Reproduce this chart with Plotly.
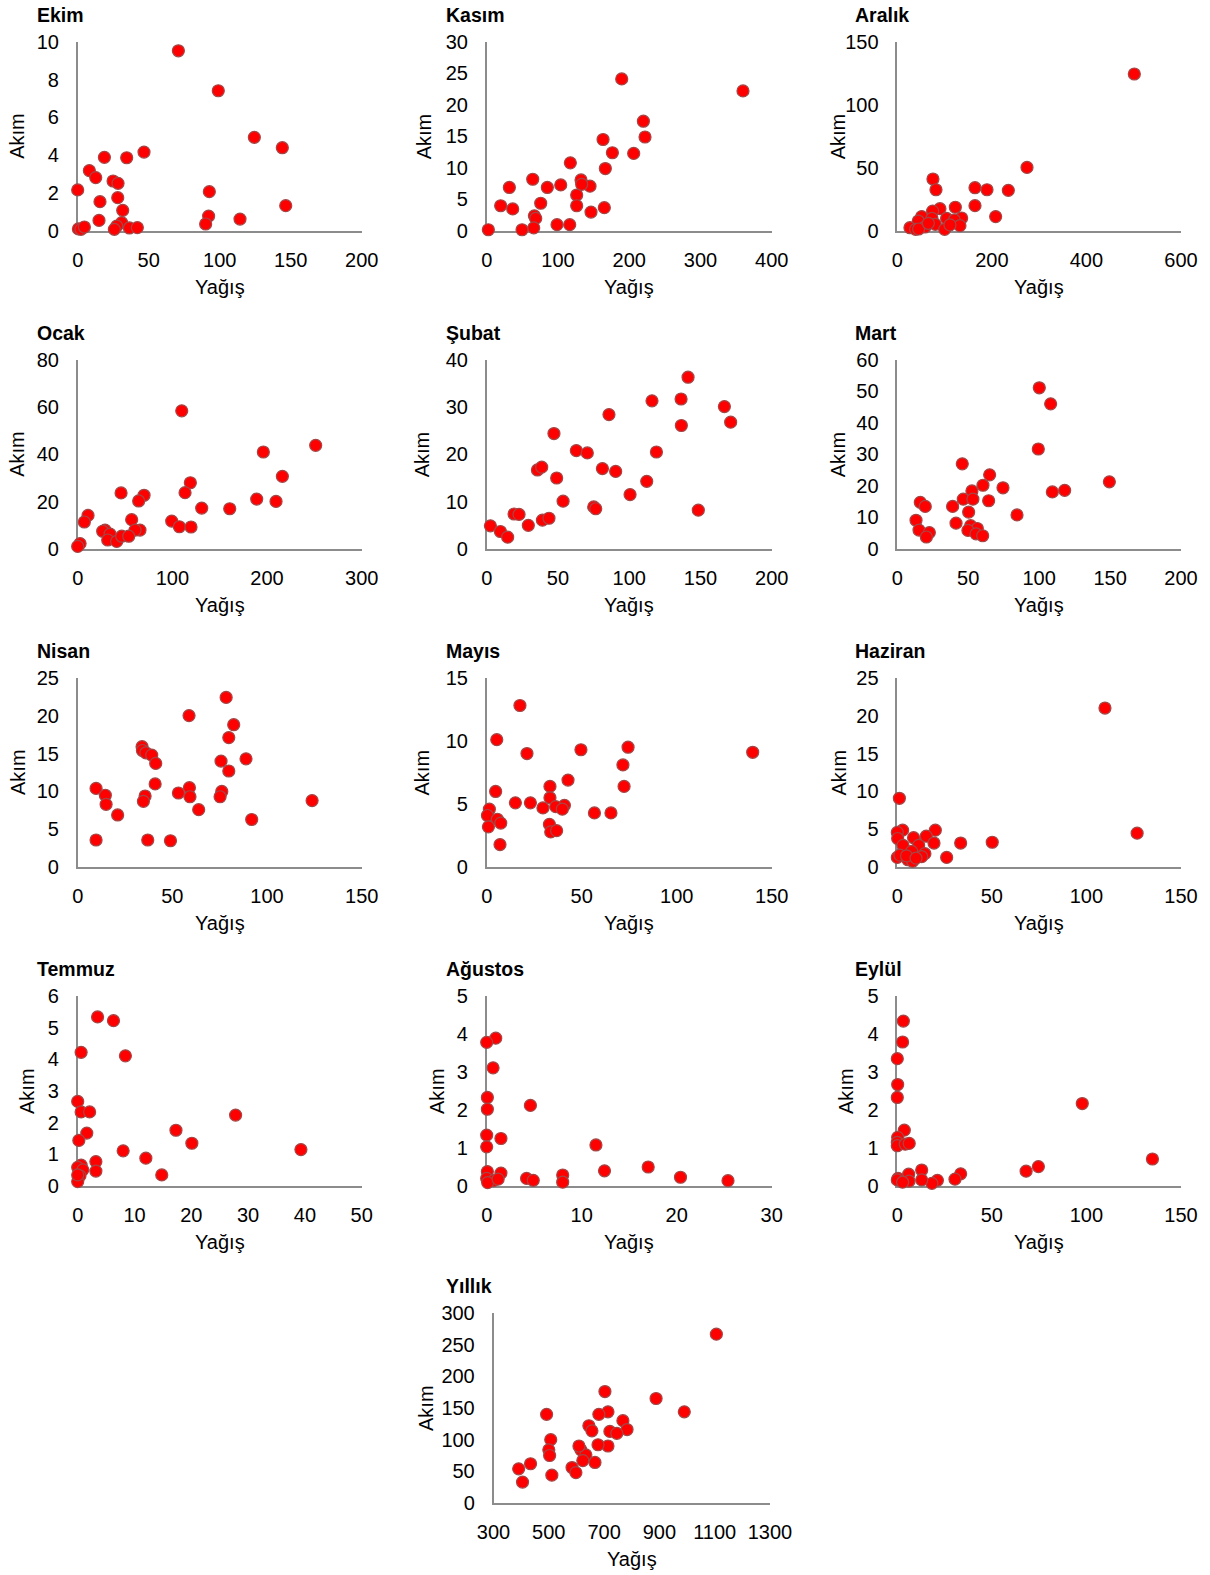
import plotly.graph_objects as go

# ---------------- data (Yağış = precipitation, Akım = runoff) ----------------
ekim_yagis = [70.9, 99, 124.4, 144.1, 46.7, 18.8, 34.5, 8.2, 12.7, 24.9, 28.4, 0, 92.7, 28.2, 15.7,
              31.7, 146.5, 92.2, 114.3, 90.1, 15.0, 31.0, 27.5, 25.8, 36.4, 42.0, 0.5, 2.3, 4.7]
ekim_akim = [9.52, 7.41, 4.95, 4.40, 4.17, 3.89, 3.87, 3.19, 2.82, 2.64, 2.52, 2.17, 2.08, 1.76, 1.55,
             1.09, 1.34, 0.79, 0.63, 0.37, 0.56, 0.44, 0.26, 0.09, 0.16, 0.18, 0.11, 0.09, 0.21]

kasim_yagis = [189.5, 359.7, 219.9, 222.2, 163.3, 176.4, 206.3, 117.4, 166.5, 64.6, 132.4, 31.8, 85.1,
               103.9, 145.0, 133.3, 126.3, 75.8, 19.6, 36.5, 126.3, 165.1, 146.4, 66.9, 68.8, 66.0,
               98.7, 116.5, 49.6, 2.3]
kasim_akim = [24.1, 22.2, 17.4, 14.9, 14.5, 12.4, 12.3, 10.8, 9.9, 8.2, 8.1, 6.9, 6.9, 7.3, 7.1, 7.4,
              5.7, 4.4, 4.0, 3.5, 4.0, 3.7, 3.0, 2.4, 2.0, 0.5, 1.0, 1.0, 0.2, 0.2]

aralik_yagis = [501.3, 274.3, 75.4, 81.8, 164.3, 189.7, 234.8, 164.3, 122.7, 90.2, 74.7, 208.0, 136.1,
                104.3, 51.5, 73.3, 120.6, 44.4, 132.5, 80.4, 58.5, 26.8, 38.8, 45.1, 100.1, 111.4, 65.6]
aralik_akim = [124.4, 50.4, 41.2, 32.7, 34.3, 32.7, 32.2, 20.1, 18.8, 17.7, 15.8, 11.4, 10.3, 10.0,
               11.4, 10.0, 8.7, 7.9, 4.2, 5.3, 3.2, 2.6, 1.3, 1.6, 1.3, 4.8, 6.1]

ocak_yagis = [109.9, 251.4, 196.1, 216.2, 119.0, 113.4, 45.8, 70.1, 64.4, 189.1, 209.5, 131.0, 160.6,
              10.9, 7.0, 57.0, 99.3, 107.4, 119.7, 65.8, 60.6, 28.9, 26.4, 34.2, 31.7, 41.2, 46.5,
              53.9, 2.5, 0]
ocak_akim = [58.4, 43.8, 41.0, 30.7, 28.0, 23.8, 23.7, 22.7, 20.3, 21.1, 20.1, 17.3, 17.0, 14.2, 11.4,
             12.4, 11.8, 9.4, 9.3, 8.0, 8.0, 8.0, 7.5, 6.3, 3.8, 3.2, 5.4, 5.4, 2.3, 1.1]

subat_yagis = [141.3, 116.0, 136.4, 166.8, 171.2, 136.6, 85.8, 47.2, 62.9, 70.6, 119.1, 35.6, 38.6,
               81.2, 90.5, 49.1, 112.3, 100.6, 53.6, 75.1, 76.5, 148.5, 19.2, 22.7, 39.1, 43.7,
               29.2, 2.6, 9.6, 14.7]
subat_akim = [36.3, 31.3, 31.7, 30.1, 26.8, 26.1, 28.4, 24.4, 20.8, 20.3, 20.5, 16.7, 17.3, 17.0, 16.4,
              15.0, 14.3, 11.5, 10.1, 8.9, 8.5, 8.2, 7.4, 7.3, 6.1, 6.5, 5.0, 4.9, 3.7, 2.5]

mart_yagis = [100.1, 108.1, 99.4, 45.8, 149.5, 65.1, 60.4, 74.5, 52.6, 109.3, 118.0, 46.5, 53.3, 64.4,
              16.2, 19.7, 39.0, 50.3, 84.4, 13.2, 41.4, 51.7, 56.4, 49.8, 15.3, 22.6, 20.5, 55.5, 60.2]
mart_akim = [51.1, 46.0, 31.7, 27.0, 21.3, 23.5, 20.2, 19.4, 18.4, 18.1, 18.6, 15.8, 15.8, 15.3, 14.8,
             13.5, 13.5, 11.7, 10.8, 9.1, 8.2, 7.4, 6.5, 5.9, 6.0, 5.2, 3.8, 4.8, 4.2]

nisan_yagis = [78.4, 58.8, 82.4, 79.8, 34.0, 34.2, 36.0, 39.1, 41.2, 88.9, 75.7, 79.8, 40.9, 9.7, 59.0,
               53.2, 76.1, 14.6, 35.6, 59.3, 75.2, 15.0, 34.7, 123.8, 63.9, 21.1, 91.9, 9.7, 37.0, 49.0]
nisan_akim = [22.4, 20.0, 18.8, 17.1, 15.9, 15.4, 15.1, 14.8, 13.7, 14.3, 14.0, 12.7, 11.0, 10.4, 10.5,
              9.8, 10.0, 9.5, 9.4, 9.3, 9.3, 8.3, 8.7, 8.8, 7.6, 6.9, 6.3, 3.6, 3.6, 3.5]

mayis_yagis = [17.5, 5.3, 74.4, 49.6, 140.0, 21.2, 71.7, 42.8, 72.3, 33.3, 4.7, 33.3, 15.1, 23.0, 40.9,
               36.3, 29.6, 39.8, 56.7, 65.4, 1.4, 0.4, 5.6, 7.4, 33.0, 0.9, 33.7, 36.8, 7.0]
mayis_akim = [12.8, 10.1, 9.5, 9.3, 9.1, 9.0, 8.1, 6.9, 6.4, 6.4, 6.0, 5.5, 5.1, 5.1, 4.9, 4.8, 4.7,
              4.6, 4.3, 4.3, 4.6, 4.1, 3.8, 3.5, 3.4, 3.2, 2.8, 2.9, 1.8]

haziran_yagis = [109.8, 126.8, 1.1, 2.8, 20.1, 0, 0.2, 8.6, 15.3, 3.0, 11.3, 19.4, 33.5, 50.2, 7.6,
                 14.6, 26.1, 0, 1.4, 5.6, 8.1, 12.9, 4.9, 9.9]
haziran_akim = [21.0, 4.5, 9.1, 4.9, 4.9, 4.6, 3.8, 3.9, 4.1, 2.9, 2.9, 3.2, 3.2, 3.3, 2.1, 1.8, 1.3,
                1.3, 1.6, 1.0, 0.8, 1.4, 1.5, 1.2]

temmuz_yagis = [3.5, 6.3, 0.6, 8.4, 0, 0.6, 2.1, 27.8, 1.6, 17.3, 0.2, 20.1, 39.3, 8.0, 12.0, 3.2, 3.2,
                14.8, 0.6, 0, 0.9, 0.4, 0, 0]
temmuz_akim = [5.34, 5.22, 4.22, 4.11, 2.67, 2.34, 2.34, 2.24, 1.67, 1.76, 1.44, 1.35, 1.15, 1.11, 0.88,
               0.77, 0.47, 0.35, 0.66, 0.59, 0.51, 0.32, 0.14, 0.35]

agustos_yagis = [0.95, 0, 0.67, 0.07, 4.6, 0.07, 0, 1.5, 0, 11.5, 12.4, 17.0, 20.4, 25.4, 1.5, 4.2,
                 4.9, 8.0, 8.0, 0.07, 0, 0.7, 0.1, 1.2]
agustos_akim = [3.89, 3.78, 3.11, 2.33, 2.12, 2.02, 1.34, 1.25, 1.03, 1.08, 0.40, 0.50, 0.23, 0.14,
                0.34, 0.20, 0.15, 0.29, 0.10, 0.38, 0.20, 0.14, 0.09, 0.18]

eylul_yagis = [3.2, 2.8, 0, 0.2, 0, 97.8, 3.7, 0.2, 0, 0, 4.2, 6.3, 134.9, 74.6, 68.1, 12.9, 6.0,
               33.5, 30.5, 21.2, 18.3, 12.9, 6.2, 0.4, 0, 2.8]
eylul_akim = [4.34, 3.79, 3.35, 2.67, 2.33, 2.17, 1.47, 1.28, 1.15, 1.06, 1.10, 1.12, 0.71, 0.51,
              0.39, 0.42, 0.31, 0.32, 0.18, 0.15, 0.07, 0.16, 0.13, 0.20, 0.16, 0.10]

yillik_yagis = [1106, 888, 990, 703, 492, 714, 681, 645, 768, 783, 721, 746, 656, 507, 714, 678, 500,
                503, 616, 634, 623, 667, 434, 391, 584, 598, 511, 405, 609]
yillik_akim = [266.6, 165, 144, 176, 140, 144, 140, 122, 130, 116, 113, 110, 114, 100, 90, 92, 84,
               75, 84, 76, 67, 64, 62, 54, 56, 48, 44, 33, 90]

titles = ["Ekim", "Kasım", "Aralık", "Ocak", "Şubat", "Mart", "Nisan", "Mayıs", "Haziran",
          "Temmuz", "Ağustos", "Eylül", "Yıllık"]
series_x = [ekim_yagis, kasim_yagis, aralik_yagis, ocak_yagis, subat_yagis, mart_yagis, nisan_yagis,
            mayis_yagis, haziran_yagis, temmuz_yagis, agustos_yagis, eylul_yagis, yillik_yagis]
series_y = [ekim_akim, kasim_akim, aralik_akim, ocak_akim, subat_akim, mart_akim, nisan_akim,
            mayis_akim, haziran_akim, temmuz_akim, agustos_akim, eylul_akim, yillik_akim]

# axis scales (min, max, step)
x_scales = [(0, 200, 50), (0, 400, 100), (0, 600, 200), (0, 300, 100), (0, 200, 50), (0, 200, 50),
            (0, 150, 50), (0, 150, 50), (0, 150, 50), (0, 50, 10), (0, 30, 10), (0, 150, 50),
            (300, 1300, 200)]
y_scales = [(0, 10, 2), (0, 30, 5), (0, 150, 50), (0, 80, 20), (0, 40, 10), (0, 60, 10),
            (0, 25, 5), (0, 15, 5), (0, 25, 5), (0, 6, 1), (0, 5, 1), (0, 5, 1), (0, 300, 50)]

x_label = "Yağış"
y_label = "Akım"

# ---------------- layout ----------------
W, H = 1210, 1575
col_px = [(77.7, 361.7), (486.7, 771.7), (897.3, 1181.0)]
row_px = [(41.7, 231.0), (359.7, 549.0), (677.7, 867.3), (996.0, 1186.0), (1313.0, 1503.0)]
title_left = [35, 444, 853]
yillik_cols = (493.5, 770.0)
ytitle_x = [17.5, 424, 838, 17.5, 422, 838, 17.5, 421, 838, 27, 437, 846, 426]


def fx(px):
    return px / W


def fy(py):
    return 1 - py / H


FONT = "Liberation Sans, Arial, sans-serif"
AX_COLOR = "#8C8C8C"
TICK_SIZE = 20

fig = go.Figure()
annotations = []

for i in range(13):
    if i < 12:
        r, c = divmod(i, 3)
        x0, x1 = col_px[c]
        tl = title_left[c]
    else:
        r = 4
        x0, x1 = yillik_cols
        tl = 444
    top, bot = row_px[r]
    n = i + 1
    xa = "x" if n == 1 else f"x{n}"
    ya = "y" if n == 1 else f"y{n}"
    fig.add_trace(go.Scatter(
        x=series_x[i], y=series_y[i], mode="markers", xaxis=xa, yaxis=ya,
        cliponaxis=False, showlegend=False,
        marker=dict(size=12, color="#FF0000", line=dict(color="rgb(165,70,70)", width=1.2)),
    ))
    xs, ys = x_scales[i], y_scales[i]
    common = dict(showgrid=False, zeroline=False, showline=True, linecolor=AX_COLOR, linewidth=1.5,
                  ticks="", layer="below traces", automargin=False,
                  tickfont=dict(family=FONT, size=TICK_SIZE, color="#000000"), fixedrange=True)
    fig.layout[f"xaxis{'' if n == 1 else n}"] = dict(
        domain=[fx(x0), fx(x1)], anchor=ya, range=[xs[0], xs[1]],
        tickmode="linear", tick0=xs[0], dtick=xs[2], ticklabelstandoff=10, **common)
    fig.layout[f"yaxis{'' if n == 1 else n}"] = dict(
        domain=[fy(bot), fy(top)], anchor=xa, range=[ys[0], ys[1]],
        tickmode="linear", tick0=ys[0], dtick=ys[2], ticklabelstandoff=13, **common)

    # panel title
    annotations.append(dict(text=f"<b>{titles[i]}</b>", xref="paper", yref="paper",
                            x=fx(tl), y=fy(top - 27), xanchor="left", yanchor="middle",
                            showarrow=False, font=dict(family=FONT, size=19.5, color="#000000")))
    # x axis title
    annotations.append(dict(text=x_label, xref="paper", yref="paper",
                            x=fx((x0 + x1) / 2), y=fy(bot + 56), xanchor="center",
                            yanchor="middle", showarrow=False,
                            font=dict(family=FONT, size=TICK_SIZE, color="#000000")))
    # y axis title
    annotations.append(dict(text=y_label, xref="paper", yref="paper", textangle=-90,
                            x=fx(ytitle_x[i]), y=fy((top + bot) / 2), xanchor="center",
                            yanchor="middle", showarrow=False,
                            font=dict(family=FONT, size=TICK_SIZE, color="#000000")))

fig.update_layout(width=W, height=H,
                  margin=dict(l=0, r=0, t=0, b=0, pad=0, autoexpand=False),
                  paper_bgcolor="white", plot_bgcolor="white", annotations=annotations,
                  font=dict(family=FONT), hovermode=False)

# remove the default page margin so the figure fills the window exactly
page_fix = ("document.body.style.margin='0';"
            "document.body.style.overflow='hidden';"
            "document.documentElement.style.overflow='hidden';")

fig.write_html("out.html", post_script=page_fix, config={"displayModeBar": False})
